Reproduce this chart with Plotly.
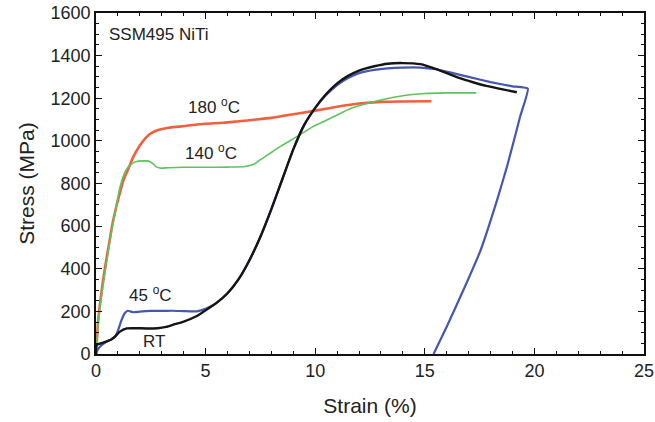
import plotly.graph_objects as go

# 180 °C
strain_180 = [0, 0.05, 0.1, 0.2, 0.3, 0.45, 0.6, 0.75, 0.9, 1.05, 1.25, 1.5, 1.7, 2.0, 2.25, 2.5, 2.8,
              3.3, 3.8, 4.3, 5.0, 5.8, 6.5, 7.3, 8.0, 9.0, 10.0, 11.0, 12.0, 13.0, 14.0, 15.3]
stress_180 = [0, 80, 160, 250, 330, 430, 520, 610, 680, 740, 815, 875, 925, 978, 1012, 1035, 1050,
              1062, 1067, 1073, 1080, 1085, 1092, 1100, 1108, 1125, 1142, 1160, 1175, 1183, 1185, 1186]

# 140 °C
strain_140 = [0, 0.05, 0.1, 0.2, 0.35, 0.5, 0.65, 0.8, 0.95, 1.1, 1.25, 1.4, 1.6, 1.85, 2.15, 2.4,
              2.6, 2.75, 2.95, 3.3, 4.0, 5.0, 6.0, 6.8, 7.2, 7.5, 7.8, 8.4, 9.2, 9.9, 10.7, 11.7,
              13.0, 14.0, 15.0, 16.0, 17.35]
stress_140 = [0, 70, 140, 230, 340, 440, 540, 625, 710, 785, 835, 868, 890, 903, 906, 905,
              893, 878, 872, 874, 876, 876, 877, 880, 890, 912, 932, 973, 1022, 1067, 1106, 1155,
              1192, 1212, 1222, 1225, 1225]

# 45 °C (loading + unloading)
strain_45 = [0, 0.05, 0.18, 0.4, 0.64, 0.87, 1.0, 1.15, 1.3, 1.45, 1.7, 2.0, 2.5, 3.0, 3.5, 4.0,
             4.6, 5.0, 5.5, 6.0, 6.5, 7.0, 7.5, 8.0, 8.5, 9.0, 9.5, 10.0, 10.5, 11.0, 11.5, 12.0,
             12.7, 13.3, 14.0, 14.8, 15.5, 16.2, 17.0, 18.0, 19.0, 19.7,
             19.35, 18.75, 18.3, 17.55, 16.9, 16.0, 15.4]
stress_45 = [0, 15, 34, 52, 66, 81, 110, 155, 190, 203, 196, 199, 202, 202, 203, 201,
             200, 212, 240, 285, 350, 440, 550, 680, 820, 960, 1075, 1155, 1215, 1262, 1295, 1318,
             1333, 1340, 1344, 1344, 1336, 1320, 1300, 1276, 1256, 1245,
             1114, 879, 723, 488, 332, 128, 0]

# RT
strain_rt = [0, 0.03, 0.33, 0.72, 0.9, 1.09, 1.4, 1.8, 2.3, 2.8, 3.2, 3.6, 4.0, 4.6, 5.0, 5.5,
             6.0, 6.5, 7.0, 7.5, 8.0, 8.5, 9.0, 9.5, 10.0, 10.5, 11.0, 11.5, 12.0, 12.7, 13.3,
             14.0, 14.8, 15.3, 15.7, 16.2, 16.6, 17.2, 17.8, 18.5, 19.2]
stress_rt = [0, 42, 53, 69, 85, 105, 120, 121, 120, 121, 127, 140, 152, 178, 205, 240,
             285, 350, 440, 550, 680, 820, 960, 1075, 1155, 1220, 1270, 1305, 1330, 1350, 1362,
             1365, 1360, 1345, 1330, 1310, 1294, 1275, 1258, 1243, 1228]

# annotations: (text, x, y, anchor)
labels = [
    ("SSM495 NiTi", 0.5, 1497, "left"),
    ("180 <sup>o</sup>C", 5.38, 1165, "center"),
    ("140 <sup>o</sup>C", 5.25, 950, "center"),
    ("45 <sup>o</sup>C", 2.49, 283, "center"),
    ("RT", 2.65, 58, "center"),
]

FONT = "Liberation Sans, Arial, sans-serif"

fig = go.Figure()
fig.add_trace(go.Scatter(x=strain_180, y=stress_180, mode="lines",
                         line=dict(color="#f0603f", width=2.6, shape="spline", smoothing=0.6)))
fig.add_trace(go.Scatter(x=strain_140, y=stress_140, mode="lines",
                         line=dict(color="#5cc45c", width=1.6, shape="spline", smoothing=0.6)))
fig.add_trace(go.Scatter(x=strain_45, y=stress_45, mode="lines",
                         line=dict(color="#4558b0", width=2.2, shape="spline", smoothing=0.4)))
fig.add_trace(go.Scatter(x=strain_rt, y=stress_rt, mode="lines",
                         line=dict(color="#151515", width=2.4, shape="spline", smoothing=0.6)))

for text, x, y, anchor in labels:
    fig.add_annotation(x=x, y=y, text=text, showarrow=False, xanchor=anchor, yanchor="middle",
                       font=dict(family=FONT, size=17, color="#222222"))

axis_common = dict(
    showgrid=False, zeroline=False, showline=True, linecolor="#111111", linewidth=1.6,
    mirror="ticks", ticks="inside", ticklen=6, tickwidth=1.4, tickcolor="#111111",
    tickfont=dict(family=FONT, size=18, color="#222222"), automargin=False,
)

fig.update_xaxes(range=[0, 25], tick0=0, dtick=5,
                 minor=dict(dtick=1, ticks="inside", ticklen=3, tickcolor="#111111", tickwidth=1.2),
                 title=dict(text="Strain (%)", font=dict(family=FONT, size=21, color="#222222"), standoff=18),
                 **axis_common)
fig.update_yaxes(range=[0, 1600], tick0=0, dtick=200,
                 minor=dict(dtick=50, ticks="inside", ticklen=3, tickcolor="#111111", tickwidth=1.2),
                 title=dict(text="Stress (MPa)", font=dict(family=FONT, size=21, color="#222222"), standoff=10),
                 **axis_common)

fig.update_layout(
    width=655, height=422, showlegend=False,
    margin=dict(l=96, r=11, t=13, b=68),
    plot_bgcolor="white", paper_bgcolor="white",
)

fig.write_html("out.html")
